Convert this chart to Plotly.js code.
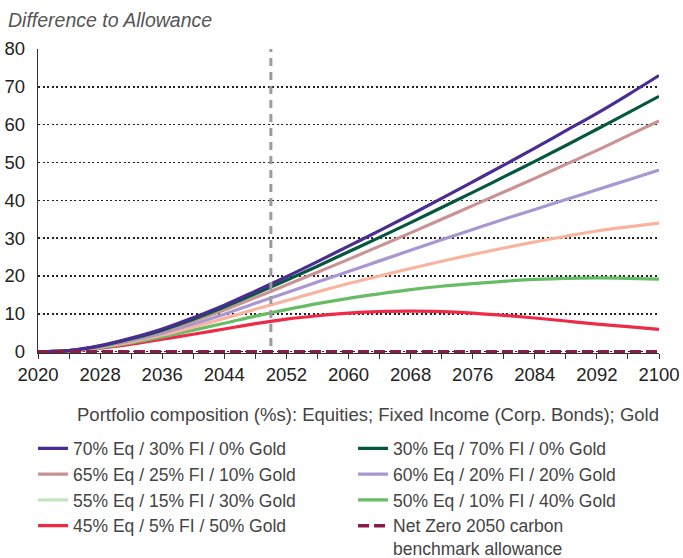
<!DOCTYPE html>
<html>
<head>
<meta charset="utf-8">
<script src="https://cdn.plot.ly/plotly-3.0.1.min.js"></script>
<style>html,body{margin:0;padding:0;background:#fff;}#chart{width:683px;height:558px;}</style>
</head>
<body>
<div id="chart"></div>
<script>
// ---- data ----
const years = [2020,2024,2028,2032,2036,2040,2044,2048,2052,2056,2060,2064,2068,2072,2076,2080,2084,2088,2092,2096,2100];
const eq70fi30g0  = [0,0.3,1.6,3.6,6.0,9.0,12.3,16.0,19.8,23.8,27.9,32.0,36.2,40.5,44.9,49.3,53.8,58.4,63.0,67.9,73.0];
const eq30fi70g0  = [0,0.3,1.5,3.4,5.7,8.6,11.8,15.3,18.9,22.6,26.4,30.2,34.1,38.1,42.1,46.2,50.3,54.5,58.8,63.1,67.5];
const eq65fi25g10 = [0,0.3,1.4,3.2,5.4,8.1,11.0,14.3,17.6,21.0,24.4,27.9,31.4,35.0,38.6,42.2,45.8,49.5,53.2,57.1,61.0];
const eq60fi20g20 = [0,0.3,1.3,2.9,4.9,7.3,9.9,12.8,15.6,18.4,21.2,24.0,26.8,29.6,32.3,35.0,37.6,40.2,42.8,45.4,48.0];
const eq55fi15g30 = [0,0.2,1.2,2.6,4.4,6.5,8.8,11.2,13.5,15.8,18.0,20.0,22.0,23.9,25.7,27.4,29.0,30.5,31.9,33.0,34.0];
const eq50fi10g40 = [0,0.2,1.0,2.3,3.9,5.7,7.5,9.4,11.1,12.7,14.1,15.3,16.4,17.3,18.0,18.6,19.1,19.4,19.5,19.4,19.2];
const eq45fi5g50  = [0,0.2,0.9,2.0,3.3,4.6,6.0,7.4,8.6,9.5,10.2,10.6,10.7,10.6,10.2,9.6,8.9,8.1,7.3,6.6,5.9];
const netZero     = [0,0,0,0,0,0,0,0,0,0,0,0,0,0,0,0,0,0,0,0,0];
const seriesNames = [
  "70% Eq / 30% FI / 0% Gold",
  "30% Eq / 70% FI / 0% Gold",
  "65% Eq / 25% FI / 10% Gold",
  "60% Eq / 20% FI / 20% Gold",
  "55% Eq / 15% FI / 30% Gold",
  "50% Eq / 10% FI / 40% Gold",
  "45% Eq / 5% FI / 50% Gold",
  "Net Zero 2050 carbon<br>benchmark allowance"
];
const netZeroYear = 2050;
const yTitle = "Difference to Allowance";
const legendTitle = "Portfolio composition (%s): Equities; Fixed Income (Corp. Bonds); Gold";

// ---- styles ----
const FONT = "'Liberation Sans', Arial, Helvetica, sans-serif";
function line(y, name, color, rank, extra) {
  return Object.assign({
    x: years, y: y, name: name, type: 'scatter', mode: 'lines',
    line: {color: color, width: 3.2, shape: 'spline', smoothing: 1},
    legendrank: rank, hoverinfo: 'skip'
  }, extra || {});
}
const traces = [
  line(eq45fi5g50,  seriesNames[6], '#ee2a47', 7),
  line(eq50fi10g40, seriesNames[5], '#67bd65', 6),
  line(eq55fi15g30, seriesNames[4], '#f9b4a0', 5, {showlegend: false}),
  // legend swatch as shown in the reference (light green)
  {x: [null], y: [null], name: seriesNames[4], type: 'scatter', mode: 'lines',
   line: {color: '#c6e4c1', width: 3.2}, legendrank: 5},
  line(eq60fi20g20, seriesNames[3], '#a897d0', 4),
  line(eq65fi25g10, seriesNames[2], '#c99393', 3),
  line(eq30fi70g0,  seriesNames[1], '#06573f', 2),
  line(eq70fi30g0,  seriesNames[0], '#4a2c95', 1),
  line(netZero,     seriesNames[7], '#8c1a4b', 8, {line: {color: '#8c1a4b', width: 3.5, dash: '11px,5px'}})
];

const layout = {
  width: 683, height: 558,
  margin: {l: 38, r: 24, t: 49, b: 205, autoexpand: false},
  paper_bgcolor: '#ffffff', plot_bgcolor: '#ffffff',
  font: {family: FONT, color: '#222', size: 18},
  showlegend: true,
  xaxis: {
    range: [2020, 2100], tick0: 2020, dtick: 8,
    ticks: 'outside', ticklen: 5, tickwidth: 1, tickcolor: '#333',
    minor: {dtick: 4, tick0: 2020, ticks: 'outside', ticklen: 5, tickwidth: 1, tickcolor: '#333', showgrid: false},
    showline: true, linecolor: '#333', linewidth: 1,
    showgrid: false, zeroline: false,
    tickfont: {size: 18.5, color: '#222', family: FONT}, ticklabelstandoff: 0
  },
  yaxis: {
    range: [-0.35, 80], dtick: 10, tick0: 0,
    showline: true, linecolor: '#333', linewidth: 1.2,
    showgrid: true, gridcolor: '#222', gridwidth: 1.4, griddash: '2px,2.5px',
    zeroline: false, ticks: '',
    tickfont: {size: 18.5, color: '#222', family: FONT}, ticklabelstandoff: 8
  },
  shapes: [{
    type: 'line', xref: 'x', yref: 'y', x0: netZeroYear, x1: netZeroYear, y0: 1.5, y1: 80,
    line: {color: '#9b9b9b', width: 3, dash: '8px,6px'}, layer: 'above'
  }],
  annotations: [
    {xref: 'paper', yref: 'paper', x: -0.052, y: 1.095, xanchor: 'left', yanchor: 'middle',
     text: '<i>' + yTitle + '</i>', showarrow: false, font: {size: 19.5, color: '#555', family: FONT}},
    {xref: 'paper', yref: 'paper', x: 0.0596, y: -0.2007, xanchor: 'left', yanchor: 'middle',
     text: legendTitle, showarrow: false, font: {size: 18.5, color: '#444', family: FONT}}
  ],
  legend: {
    orientation: 'h', x: -0.008, xanchor: 'left', y: -0.255, yanchor: 'top',
    entrywidth: 275, valign: 'top', traceorder: 'normal',
    font: {size: 17.5, color: '#444', family: FONT},
    bgcolor: 'rgba(0,0,0,0)', borderwidth: 0
  }
};

Plotly.newPlot('chart', traces, layout, {staticPlot: true, displayModeBar: false});
</script>
</body>
</html>
